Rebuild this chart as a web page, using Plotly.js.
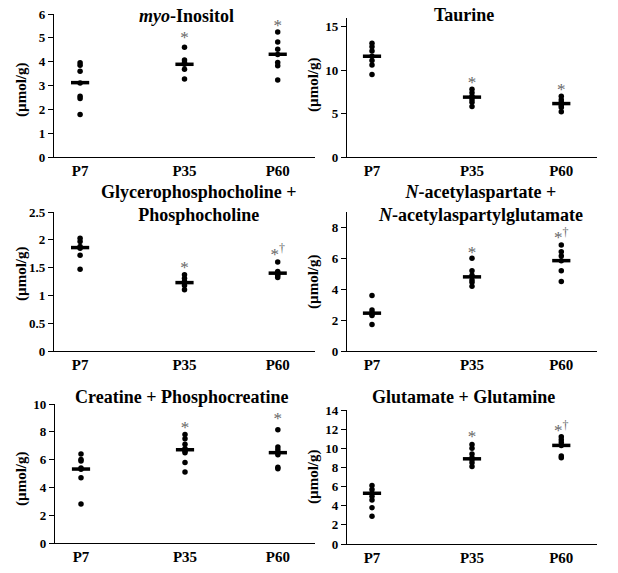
<!DOCTYPE html>
<html><head><meta charset="utf-8">
<script src="https://cdn.plot.ly/plotly-3.0.1.min.js"></script>
<style>body{margin:0;padding:0;background:#fff}#chart{width:618px;height:573px}</style>
</head><body><div id="chart"></div>
<script>
// Ages (x-axis is numeric days)
const ageLabels = ['P7', 'P35', 'P60'];
const ageDays = [7, 35, 60];

// Individual values (µmol/g)
const myoP7 = [3.95, 3.85, 3.6, 3.1, 2.55, 2.45, 1.78];
const myoP35 = [4.6, 4.07, 3.96, 3.89, 3.68, 3.27];
const myoP60 = [5.24, 4.82, 4.52, 4.3, 3.97, 3.83, 3.23];
const myoMean = [3.12, 3.89, 4.31];

const tauP7 = [13.1, 12.7, 12.2, 11.6, 11.1, 10.6, 9.5];
const tauP35 = [7.8, 7.4, 7.0, 6.9, 6.6, 6.3, 5.8];
const tauP60 = [7.0, 6.6, 6.3, 6.1, 5.9, 5.7, 5.2];
const tauMean = [11.6, 6.89, 6.15];

const gpcP7 = [2.03, 1.97, 1.88, 1.85, 1.72, 1.47];
const gpcP35 = [1.37, 1.31, 1.25, 1.22, 1.18, 1.1];
const gpcP60 = [1.6, 1.43, 1.4, 1.38, 1.36, 1.32];
const gpcMean = [1.86, 1.23, 1.4];

const naaP7 = [3.6, 2.65, 2.5, 2.4, 2.3, 1.72];
const naaP35 = [6.0, 5.2, 4.9, 4.6, 4.45, 4.2];
const naaP60 = [6.87, 6.43, 6.15, 5.85, 5.2, 4.5];
const naaMean = [2.45, 4.8, 5.85];

const crP7 = [6.4, 6.0, 5.9, 5.4, 5.3, 4.7, 2.8];
const crP35 = [7.8, 7.5, 7.1, 6.8, 6.6, 6.5, 5.8, 5.1];
const crP60 = [8.15, 6.9, 6.7, 6.5, 6.35, 5.45, 5.35];
const crMean = [5.32, 6.71, 6.5];

const glxP7 = [6.1, 5.7, 5.3, 5.0, 4.6, 3.8, 2.9];
const glxP35 = [10.4, 10.0, 9.4, 9.0, 8.8, 8.5, 8.1];
const glxP60 = [11.2, 10.9, 10.6, 10.3, 9.2, 9.0];
const glxMean = [5.3, 8.9, 10.3];

// Significance marks (P35, P60): label and height
const myoSig = ['*', '*'];   const myoSigY = [4.95, 5.45];
const tauSig = ['*', '*'];   const tauSigY = [8.4, 7.6];
const gpcSig = ['*', '*†'];  const gpcSigY = [1.48, 1.72];
const naaSig = ['*', '*†'];  const naaSigY = [6.3, 7.25];
const crSig = ['*', '*'];    const crSigY = [8.2, 8.85];
const glxSig = ['*', '*†'];  const glxSigY = [11.05, 11.75];
const sigDays = [35, 60];

const titles = ['<i>myo</i>-Inositol', 'Taurine', 'Glycerophosphocholine +<br>Phosphocholine',
  '<i>N</i>-acetylaspartate +<br><i>N</i>-acetylaspartylglutamate', 'Creatine + Phosphocreatine', 'Glutamate + Glutamine'];
const yMax = [6, 16, 2.5, 9, 10, 14];
const yDtick = [1, 5, 0.5, 2, 2, 2];

const panels = [
  [myoP7, myoP35, myoP60, myoMean, myoSig, myoSigY],
  [tauP7, tauP35, tauP60, tauMean, tauSig, tauSigY],
  [gpcP7, gpcP35, gpcP60, gpcMean, gpcSig, gpcSigY],
  [naaP7, naaP35, naaP60, naaMean, naaSig, naaSigY],
  [crP7, crP35, crP60, crMean, crSig, crSigY],
  [glxP7, glxP35, glxP60, glxMean, glxSig, glxSigY]
];

// pixel boxes [x0, x1, yTop, yBottom]
const W = 618, H = 573;
const boxes = [
  [54, 315, 14, 157], [347, 597, 18, 157],
  [54, 315, 212, 351], [347, 597, 212, 351],
  [55, 315, 404, 543], [347, 597, 410, 544]
];
const titlePos = [[186, 16], [464, 15], [198, 204], [480, 204], [182, 397], [463, 397]];
const yTitlePos = [[21, 90], [313, 85], [21, 274], [313, 282], [21, 479], [313, 477]];

const FONT = '"Liberation Serif", "Times New Roman", serif';
const traces = [];
const layout = {
  width: W, height: H, margin: {l: 0, r: 0, t: 0, b: 0},
  paper_bgcolor: '#fff', plot_bgcolor: 'rgba(0,0,0,0)',
  showlegend: false, font: {family: FONT, color: '#000'},
  annotations: []
};

panels.forEach((p, i) => {
  const n = i + 1;
  const xa = 'x' + (n === 1 ? '' : n), ya = 'y' + (n === 1 ? '' : n);
  const xs = [], ys = [];
  [p[0], p[1], p[2]].forEach((vals, k) => vals.forEach(v => { xs.push(ageDays[k]); ys.push(v); }));
  traces.push({type: 'scatter', mode: 'markers', x: xs, y: ys, xaxis: xa, yaxis: ya,
    marker: {color: '#000', size: 5.5}, hoverinfo: 'skip', cliponaxis: false});
  traces.push({type: 'scatter', mode: 'markers', x: ageDays, y: p[3], xaxis: xa, yaxis: ya,
    marker: {symbol: 'line-ew', size: 13, line: {color: '#000', width: 3.5}}, hoverinfo: 'skip', cliponaxis: false});
  traces.push({type: 'scatter', mode: 'text', x: sigDays, y: p[5], xaxis: xa, yaxis: ya,
    text: p[4].map(s => s.replace('†', '<sup>†</sup>')), textposition: 'middle center',
    textfont: {family: FONT, size: 17, color: '#666'}, hoverinfo: 'skip', cliponaxis: false});

  const b = boxes[i];
  layout['xaxis' + (n === 1 ? '' : n)] = {
    domain: [b[0] / W, b[1] / W], anchor: ya, range: [0, 70],
    tickmode: 'array', tickvals: ageDays, ticktext: ageLabels, ticks: '',
    showline: true, linecolor: '#000', linewidth: 1.2, showgrid: false, zeroline: false,
    tickfont: {family: FONT, size: 15, color: '#000', weight: 'bold'}, fixedrange: true
  };
  layout['yaxis' + (n === 1 ? '' : n)] = {
    domain: [1 - b[3] / H, 1 - b[2] / H], anchor: xa, range: [0, yMax[i]],
    dtick: yDtick[i], tick0: 0, ticks: 'outside', ticklen: 5, tickcolor: '#000', tickwidth: 1,
    showline: true, linecolor: '#000', linewidth: 1.2, showgrid: false, zeroline: false,
    tickfont: {family: FONT, size: 13, color: '#000', weight: 'bold'}, fixedrange: true
  };
  layout.annotations.push({xref: 'paper', yref: 'paper', x: titlePos[i][0] / W, y: 1 - titlePos[i][1] / H,
    text: '<b>' + titles[i] + '</b>', showarrow: false, xanchor: 'center', yanchor: 'middle',
    font: {family: FONT, size: 18, color: '#000'}, align: 'center'});
  layout.annotations.push({xref: 'paper', yref: 'paper', x: yTitlePos[i][0] / W, y: 1 - yTitlePos[i][1] / H,
    text: '<b>(µmol/g)</b>', textangle: -90, showarrow: false, xanchor: 'center', yanchor: 'middle',
    font: {family: FONT, size: 15, color: '#000'}});
});

Plotly.newPlot('chart', traces, layout, {staticPlot: true, displayModeBar: false});
</script></body></html>
